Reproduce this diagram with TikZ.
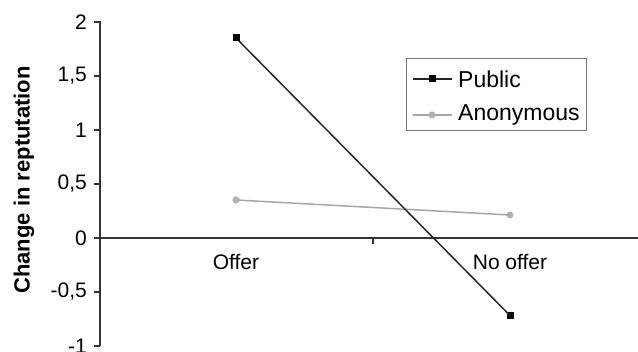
\documentclass[tikz,border=0pt]{standalone}
\usepackage{fontspec}
\setmainfont{Liberation Sans}
\begin{document}
\begin{tikzpicture}[x=1pt,y=-1pt,
  axis/.style={draw=black!80,line width=1.5pt},
  ticklab/.style={anchor=east,inner sep=0pt,font=\fontsize{21}{24}\selectfont},
  catlab/.style={inner sep=0pt,font=\fontsize{21}{24}\selectfont},
  leglab/.style={anchor=west,inner sep=0pt,font=\fontsize{23}{26}\selectfont},
  publine/.style={draw=black!85,line width=1.5pt},
  anonline/.style={draw=black!35,line width=1.5pt},
  pubmark/.style={fill=black,draw=none,rectangle,minimum size=7pt,inner sep=0pt},
  anonmark/.style={fill=black!30,draw=none,circle,minimum size=7pt,inner sep=0pt}]
\useasboundingbox (0,0) rectangle (638,352);
% axes
\coordinate (ytop) at (100,21);
\coordinate (ybot) at (100,346);
\coordinate (xl) at (100,238);
\coordinate (xr) at (638,238);
\draw[axis] (ytop) -- (ybot);
\draw[axis] (xl) -- (xr);
% y ticks
\foreach \v/\lab [count=\i] in {2/2,1.5/{1,5},1/1,0.5/{0,5},0/0,-0.5/{-0,5},-1/-1}{
  \coordinate (yt\i) at (94,238-108*\v);
  \coordinate (yta\i) at (100,238-108*\v);
  \draw[axis] (yt\i) -- (yta\i);
  \node[ticklab] (yl\i) at (87,238-108*\v) {\lab};
}
% x tick
\coordinate (xt1) at (373,238);
\coordinate (xt2) at (373,244);
\draw[axis] (xt1) -- (xt2);
% axis labels
\node[catlab] (offer) at (236,262) {Offer};
\node[catlab] (nooffer) at (510,262) {No offer};
\node[rotate=90,inner sep=0pt,font=\bfseries\fontsize{22}{25}\selectfont] (ytitle) at (24,180) {Change in reptutation};
% data
\node[pubmark] (p1) at (236,38) {};
\node[pubmark] (p2) at (510,315.5) {};
\node[anonmark] (a1) at (236,200) {};
\node[anonmark] (a2) at (510,215) {};
\draw[anonline] (a1.center) -- (a2.center);
\draw[publine] (p1.center) -- (p2.center);
\node[pubmark] at (p1) {};
\node[anonmark] at (a1) {};
% legend
\node[draw=black!55,line width=1pt,minimum width=180pt,minimum height=72pt,inner sep=0pt] (legend) at (496,95) {};
\coordinate (lp1) at (413,79);
\coordinate (lp2) at (452,79);
\coordinate (la1) at (413,115);
\coordinate (la2) at (452,115);
\draw[publine] (lp1) -- (lp2);
\draw[anonline] (la1) -- (la2);
\node[pubmark] (lpm) at (432,79) {};
\node[anonmark] (lam) at (432,115) {};
\node[leglab] (lpub) at (458,79) {Public};
\node[leglab] (lanon) at (458,115) {Anonymous};
\end{tikzpicture}
\end{document}
